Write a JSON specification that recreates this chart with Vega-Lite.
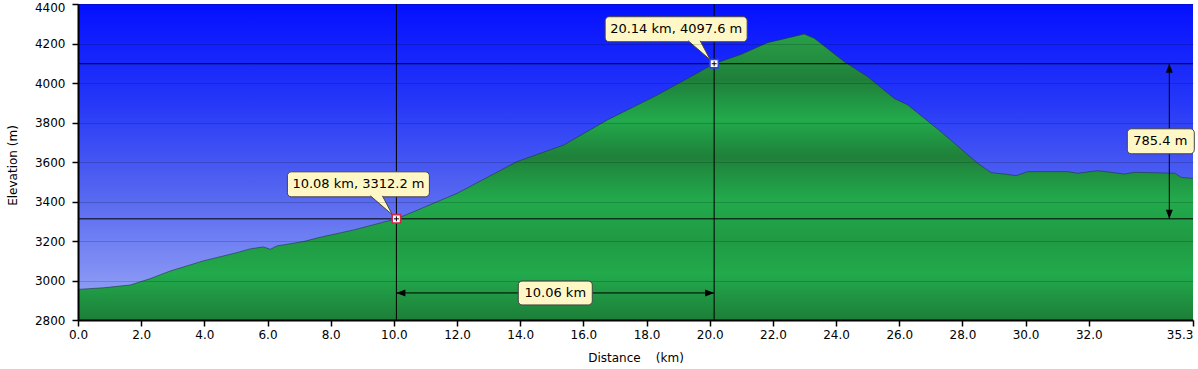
{
  "$schema": "https://vega.github.io/schema/vega-lite/v6.json",
  "width": 1115,
  "height": 316,
  "autosize": "none",
  "padding": {"left": 78, "top": 4, "right": 5, "bottom": 49},
  "background": "white",
  "config": {
    "view": {"stroke": null},
    "font": "DejaVu Sans"
  },
  "datasets": {
    "profile": [
      {"d": 0, "e": 2955}, {"d": 0.8, "e": 2963}, {"d": 1.65, "e": 2977}, {"d": 2.28, "e": 3009},
      {"d": 2.92, "e": 3048}, {"d": 3.96, "e": 3099}, {"d": 5.03, "e": 3141}, {"d": 5.45, "e": 3160},
      {"d": 5.87, "e": 3170}, {"d": 6.09, "e": 3158}, {"d": 6.3, "e": 3175}, {"d": 7.14, "e": 3197},
      {"d": 7.67, "e": 3219}, {"d": 8.73, "e": 3256}, {"d": 9.78, "e": 3300}, {"d": 10.08, "e": 3312},
      {"d": 10.95, "e": 3370}, {"d": 12.0, "e": 3441}, {"d": 13.9, "e": 3602}, {"d": 14.64, "e": 3644},
      {"d": 15.38, "e": 3686}, {"d": 16.76, "e": 3813}, {"d": 18.34, "e": 3939}, {"d": 19.4, "e": 4032},
      {"d": 20.14, "e": 4098}, {"d": 21.0, "e": 4145}, {"d": 21.83, "e": 4204}, {"d": 22.57, "e": 4232},
      {"d": 22.99, "e": 4248}, {"d": 23.31, "e": 4226}, {"d": 24.26, "e": 4108}, {"d": 25.0, "e": 4032},
      {"d": 25.84, "e": 3922}, {"d": 26.27, "e": 3889}, {"d": 27.32, "e": 3753}, {"d": 28.49, "e": 3593},
      {"d": 28.91, "e": 3546}, {"d": 29.33, "e": 3539}, {"d": 29.7, "e": 3531}, {"d": 30.07, "e": 3551},
      {"d": 31.34, "e": 3551}, {"d": 31.65, "e": 3543}, {"d": 32.29, "e": 3556}, {"d": 33.13, "e": 3539},
      {"d": 33.45, "e": 3548}, {"d": 34.72, "e": 3543}, {"d": 34.93, "e": 3522}, {"d": 35.3, "e": 3517}
    ],
    "pts": [
      {"d": 10.08, "e": 3312.2, "label": "10.08 km, 3312.2 m", "which": "start"},
      {"d": 20.14, "e": 4097.6, "label": "20.14 km, 4097.6 m", "which": "end"}
    ],
    "bg": [{"d": 0, "d2": 35.3, "e": 2800, "e2": 4400}],
    "hspan": [{"d": 10.08, "d2": 20.14, "e": 2937}],
    "vspan": [{"d": 34.55, "e": 3312.2, "e2": 4097.6}],
    "arrows": [
      {"d": 10.08, "e": 2937, "dir": "left"},
      {"d": 20.14, "e": 2937, "dir": "right"},
      {"d": 34.55, "e": 4097.6, "dir": "up"},
      {"d": 34.55, "e": 3312.2, "dir": "down"}
    ],
    "spanlabels": [
      {"d": 15.11, "e": 2937, "label": "10.06 km", "kind": "h"},
      {"d": 34.55, "e": 3704.9, "label": "785.4 m", "kind": "v"}
    ]
  },
  "encoding": {
    "x": {
      "field": "d", "type": "quantitative",
      "scale": {"domain": [0, 35.3], "nice": false, "zero": false},
      "axis": {
        "title": "Distance\u00a0\u00a0\u00a0\u00a0(km)",
        "values": [0, 2, 4, 6, 8, 10, 12, 14, 16, 18, 20, 22, 24, 26, 28, 30, 32, 35.3],
        "format": ".1f",
        "grid": false,
        "labelFont": "DejaVu Sans", "labelFontSize": 12, "labelColor": "#000",
        "labelAlign": {"expr": "datum.value > 35 ? 'right' : 'center'"},
        "labelPadding": 3,
        "tickColor": "#000", "tickSize": 6, "tickWidth": 1.5,
        "domainColor": "#000", "domainWidth": 2,
        "titleFont": "DejaVu Sans", "titleFontSize": 12, "titleFontWeight": "normal", "titleColor": "#000",
        "titleBaseline": "middle", "titleY": 37,
        "zindex": 2
      }
    },
    "y": {
      "field": "e", "type": "quantitative",
      "scale": {"domain": [2800, 4400], "nice": false, "zero": false},
      "axis": {
        "title": "Elevation (m)",
        "values": [2800, 3000, 3200, 3400, 3600, 3800, 4000, 4200, 4400],
        "format": "d",
        "grid": true, "gridColor": "#000", "gridOpacity": 0.17, "gridWidth": 1,
        "labelFont": "DejaVu Sans", "labelFontSize": 12, "labelColor": "#000",
        "labelPadding": 7,
        "labelOffset": {"expr": "datum.value == 4400 ? 3 : 0"},
        "tickColor": "#000", "tickSize": 6, "tickWidth": 1.5,
        "domainColor": "#000", "domainWidth": 2,
        "titleFont": "DejaVu Sans", "titleFontSize": 12, "titleFontWeight": "normal", "titleColor": "#000",
        "titleAngle": -90, "titleAlign": "center", "titleBaseline": "middle",
        "titleX": -66, "titleY": 161,
        "zindex": 1
      }
    }
  },
  "layer": [
    {
      "data": {"name": "bg"},
      "mark": {"type": "rect", "fill": {"gradient": "linear", "x1": 0, "y1": 0, "x2": 0, "y2": 1,
        "stops": [
          {"offset": 0, "color": "#0410ff"},
          {"offset": 0.3, "color": "#2436f8"},
          {"offset": 0.6, "color": "#5566f0"},
          {"offset": 1, "color": "#9eabf6"}
        ]}},
      "encoding": {"x2": {"field": "d2"}, "y2": {"field": "e2"}}
    },
    {
      "data": {"name": "profile"},
      "mark": {"type": "area", "fill": {"gradient": "linear", "x1": 0, "y1": 0, "x2": 0, "y2": 1,
        "stops": [
          {"offset": 0, "color": "#28a048"},
          {"offset": 0.16, "color": "#1f7f3a"},
          {"offset": 0.3, "color": "#22aa4c"},
          {"offset": 0.43, "color": "#1f803a"},
          {"offset": 0.58, "color": "#22aa4c"},
          {"offset": 0.72, "color": "#209a44"},
          {"offset": 0.84, "color": "#22aa4c"},
          {"offset": 1, "color": "#1d7e38"}
        ]}},
      "encoding": {"y2": {"datum": 2800}}
    },
    {
      "data": {"name": "profile"},
      "mark": {"type": "line", "stroke": "#22324a", "strokeWidth": 1, "opacity": 0.6},
      "encoding": {}
    },
    {
      "data": {"name": "pts"},
      "mark": {"type": "rule", "stroke": "#000", "strokeWidth": 1},
      "encoding": {"y": {"datum": 2800}, "y2": {"datum": 4400}}
    },
    {
      "data": {"name": "pts"},
      "mark": {"type": "rule", "stroke": "#000", "strokeWidth": 1},
      "encoding": {"x": {"datum": 0}, "x2": {"datum": 35.3}}
    },
    {
      "data": {"name": "hspan"},
      "mark": {"type": "rule", "stroke": "#000", "strokeWidth": 1},
      "encoding": {"x2": {"field": "d2"}}
    },
    {
      "data": {"name": "vspan"},
      "mark": {"type": "rule", "stroke": "#000", "strokeWidth": 1},
      "encoding": {"y2": {"field": "e2"}}
    },
    {
      "data": {"name": "arrows"},
      "transform": [{"filter": "datum.dir == 'left'"}],
      "mark": {"type": "point", "shape": "M0,0L9,-3.5L9,3.5Z", "size": 4, "filled": true, "fill": "#000", "opacity": 1}
    },
    {
      "data": {"name": "arrows"},
      "transform": [{"filter": "datum.dir == 'right'"}],
      "mark": {"type": "point", "shape": "M0,0L-9,-3.5L-9,3.5Z", "size": 4, "filled": true, "fill": "#000", "opacity": 1}
    },
    {
      "data": {"name": "arrows"},
      "transform": [{"filter": "datum.dir == 'up'"}],
      "mark": {"type": "point", "shape": "M0,0L-3.5,9L3.5,9Z", "size": 4, "filled": true, "fill": "#000", "opacity": 1}
    },
    {
      "data": {"name": "arrows"},
      "transform": [{"filter": "datum.dir == 'down'"}],
      "mark": {"type": "point", "shape": "M0,0L-3.5,-9L3.5,-9Z", "size": 4, "filled": true, "fill": "#000", "opacity": 1}
    },
    {
      "data": {"name": "spanlabels"},
      "transform": [{"filter": "datum.kind == 'h'"}],
      "mark": {"type": "rect", "fill": "#fff8c6", "stroke": "#444", "strokeWidth": 1, "cornerRadius": 4,
        "xOffset": -37, "x2Offset": 37, "yOffset": -12, "y2Offset": 12},
      "encoding": {"x2": {"field": "d"}, "y2": {"field": "e"}}
    },
    {
      "data": {"name": "spanlabels"},
      "transform": [{"filter": "datum.kind == 'v'"}],
      "mark": {"type": "rect", "fill": "#fff8c6", "stroke": "#444", "strokeWidth": 1, "cornerRadius": 4,
        "xOffset": -42, "x2Offset": 25, "yOffset": -12.5, "y2Offset": 12.5},
      "encoding": {"x2": {"field": "d"}, "y2": {"field": "e"}}
    },
    {
      "data": {"name": "spanlabels"},
      "transform": [{"filter": "datum.kind == 'h'"}],
      "mark": {"type": "text", "font": "DejaVu Sans", "fontSize": 13, "color": "#000", "align": "center", "baseline": "middle"},
      "encoding": {"text": {"field": "label"}}
    },
    {
      "data": {"name": "spanlabels"},
      "transform": [{"filter": "datum.kind == 'v'"}],
      "mark": {"type": "text", "font": "DejaVu Sans", "fontSize": 13, "color": "#000", "align": "center", "baseline": "middle", "dx": -9},
      "encoding": {"text": {"field": "label"}}
    },
    {
      "data": {"name": "pts"},
      "mark": {"type": "rect", "fill": "#fff8c6", "stroke": "#444", "strokeWidth": 1, "cornerRadius": 4,
        "xOffset": -109, "x2Offset": 33, "yOffset": -47, "y2Offset": -22},
      "encoding": {"x2": {"field": "d"}, "y2": {"field": "e"}}
    },
    {
      "data": {"name": "pts"},
      "mark": {"type": "point", "shape": "M-26,-23L-4,-4L-14,-23", "size": 4, "filled": true, "fill": "#fff8c6", "stroke": "#444", "strokeWidth": 1, "opacity": 1}
    },
    {
      "data": {"name": "pts"},
      "mark": {"type": "text", "font": "DejaVu Sans", "fontSize": 13, "color": "#000", "align": "left", "baseline": "middle", "dx": -104, "dy": -34.5},
      "encoding": {"text": {"field": "label"}}
    },
    {
      "data": {"name": "pts"},
      "mark": {"type": "point", "shape": "square", "size": 70, "filled": false, "fill": "#fff", "fillOpacity": 1, "strokeWidth": 1.6, "opacity": 1},
      "encoding": {
        "stroke": {"field": "which", "type": "nominal", "scale": {"domain": ["start", "end"], "range": ["#d02848", "#2a46d8"]}, "legend": null}
      }
    },
    {
      "data": {"name": "pts"},
      "mark": {"type": "point", "shape": "M-2.5,0H2.5M0,-2.5V2.5", "size": 4, "filled": false, "stroke": "#000", "strokeWidth": 1, "opacity": 1}
    }
  ]
}
